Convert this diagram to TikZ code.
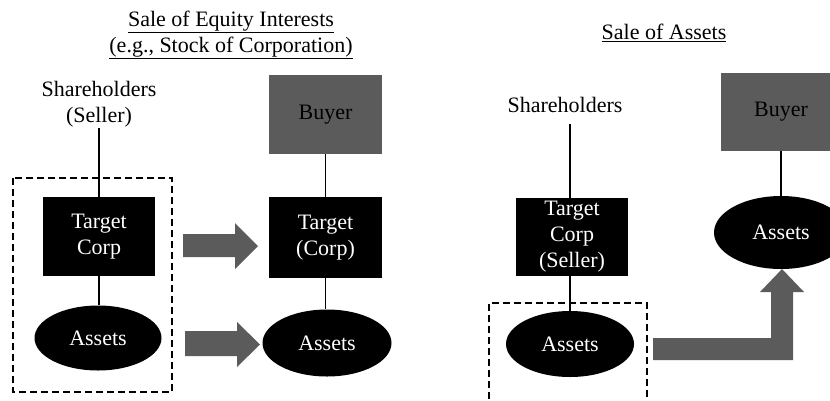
\documentclass[tikz,border=0pt]{standalone}
\usepackage{fontspec}
\setmainfont{Liberation Serif}
\usetikzlibrary{shapes.geometric}
\definecolor{boxgray}{HTML}{5B5B5B}
\tikzset{
  txt/.style={font=\fontsize{22}{26}\selectfont, align=center, inner sep=1pt},
  blackbox/.style={txt, rectangle, fill=black, text=white, minimum width=112pt, minimum height=79pt},
  graybox/.style={txt, rectangle, fill=boxgray, text=black, minimum width=113pt, minimum height=79pt},
  assetell/.style={txt, ellipse, fill=black, text=white, minimum width=127pt, minimum height=65pt, inner sep=0pt},
  link/.style={line width=1.3pt, black},
  dashbox/.style={line width=1.5pt, dash pattern=on 7pt off 4pt},
  bigarrow/.style={fill=boxgray}
}
\begin{document}
\begin{tikzpicture}[x=1pt,y=-1pt]
\useasboundingbox (0,0) rectangle (830,400);
% titles
\node[txt] (title1) at (231,35) {\underline{Sale of Equity Interests}\\\underline{(e.g., Stock of Corporation)}};
\node[txt] (title2) at (664,33) {\underline{Sale of Assets}};
% left part
\node[txt] (sh1) at (99,104) {Shareholders\\(Seller)};
\node[blackbox] (t1) at (99,236.5) {Target\\Corp};
\node[assetell] (a1) at (98,338) {Assets};
\node[graybox] (b1) at (325.5,114.5) {Buyer};
\node[blackbox, minimum width=113pt, minimum height=81pt] (t2) at (325.5,237.5) {Target\\(Corp)};
\node[assetell, minimum width=129pt, minimum height=67pt] (a2) at (327,343) {Assets};
\draw[link] (sh1.south) -- (sh1.south |- t1.north);
\draw[link] (t1.south) -- (t1.south |- a1.north);
\draw[link] (b1.south) -- (t2.north);
\draw[link] (t2.south) -- (t2.south |- a2.north);
\draw[dashbox] (13,178) rectangle (172,392);
\fill[bigarrow] (183,234) -- (235,234) -- (235,223) -- (258,246) -- (235,269) -- (235,257) -- (183,257) -- cycle;
\fill[bigarrow] (185,331) -- (237,331) -- (237,322) -- (260,344.5) -- (237,367) -- (237,356) -- (185,356) -- cycle;
% right part
\node[txt] (sh2) at (565,105) {Shareholders};
\node[blackbox, minimum height=78pt] (t3) at (572,237) {Target\\Corp\\(Seller)};
\node[assetell, minimum width=128pt, minimum height=66pt] (a3) at (570,344) {Assets};
\node[graybox, minimum width=118pt, minimum height=78pt, text width=118pt] (b2) at (781,112) {Buyer};
\node[assetell, minimum width=134pt, minimum height=73pt] (a4) at (781,232.5) {Assets};
\draw[link] (570,124) -- (570,124 |- t3.north);
\draw[link] (570,124 |- t3.south) -- (a3.north);
\draw[link] (b2.south) -- (a4.north);
\draw[dashbox] (489,410) -- (489,303) -- (647,303) -- (647,410);
\fill[bigarrow] (653,338) -- (771,338) -- (771,292) -- (760,292) -- (782,269) -- (804,292) -- (793,292) -- (793,360) -- (653,360) -- cycle;
\end{tikzpicture}
\end{document}
